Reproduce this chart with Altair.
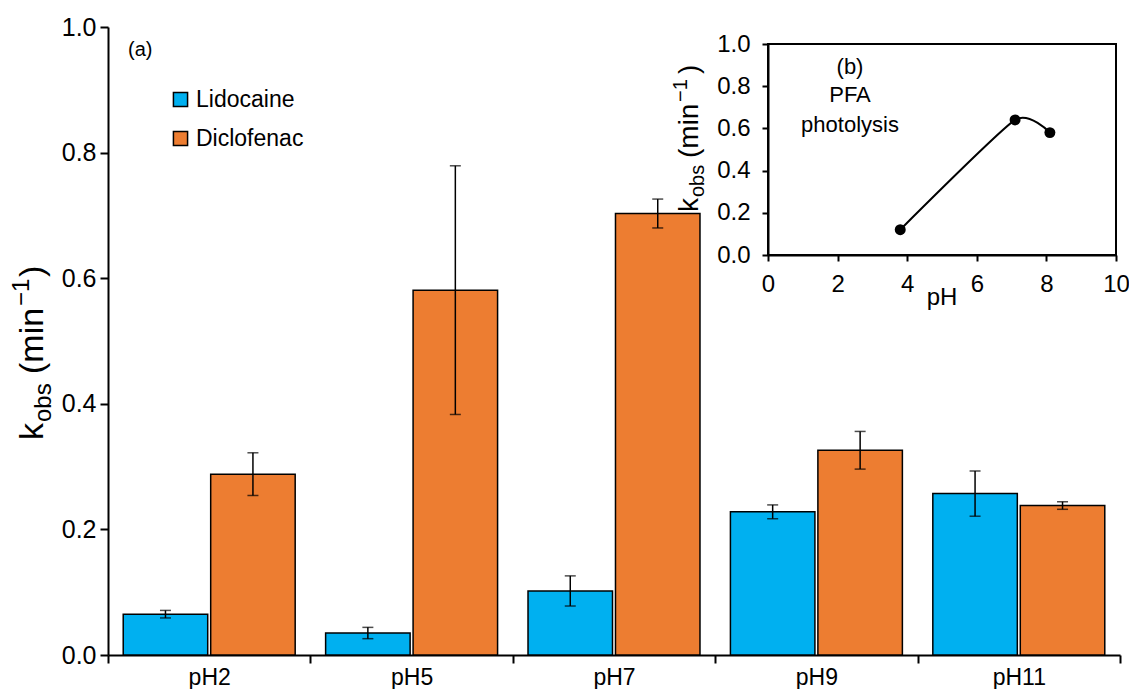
import altair as alt
import pandas as pd

FONT = "Liberation Sans"

# ---------------- data ----------------
categories = ["pH2", "pH5", "pH7", "pH9", "pH11"]
series = ["Lidocaine", "Diclofenac"]
colors = ["#00B0F0", "#ED7D31"]
lidocaine = [0.065, 0.035, 0.102, 0.228, 0.257]
lidocaine_err = [0.006, 0.009, 0.024, 0.011, 0.036]
diclofenac = [0.288, 0.581, 0.703, 0.326, 0.238]
diclofenac_err = [0.034, 0.198, 0.023, 0.030, 0.006]

inset_ph = [3.8, 7.1, 8.1]
inset_k = [0.12, 0.64, 0.58]

y_ticks = [0.0, 0.2, 0.4, 0.6, 0.8, 1.0]
inset_x_ticks = [0, 2, 4, 6, 8, 10]
inset_labels = ["(b)", "PFA", "photolysis"]

# ---------------- tables ----------------
rows = []
for s, vals, errs in [("Lidocaine", lidocaine, lidocaine_err), ("Diclofenac", diclofenac, diclofenac_err)]:
    for c, v, e in zip(categories, vals, errs):
        rows.append({"cat": c, "series": s, "value": v, "lo": v - e, "hi": v + e})
df = pd.DataFrame(rows)
inset_df = pd.DataFrame({"ph": inset_ph, "k": inset_k})
frame_df = pd.DataFrame({"x0": [inset_x_ticks[0]], "x1": [inset_x_ticks[-1]], "y0": [y_ticks[0]], "y1": [y_ticks[-1]]})
one = pd.DataFrame({"d": [0]})

W, H = 1012, 628

x_enc = alt.X("cat:N", sort=categories,
              scale=alt.Scale(paddingInner=0, paddingOuter=0),
              axis=alt.Axis(title=None, tickBand="extent", labelAngle=0, labelFontSize=23,
                            labelFont=FONT, labelColor="black", labelPadding=3, tickSize=8,
                            tickWidth=2, tickColor="black", domainWidth=2, domainColor="black"))
xo_enc = alt.XOffset("series:N", sort=series,
                     scale=alt.Scale(paddingInner=0.034, paddingOuter=0.174))
y_scale = alt.Scale(domain=[0, 1], nice=False)
y_axis = alt.Axis(title=None, values=y_ticks, format=".1f", labelFontSize=25, labelFont=FONT,
                  labelColor="black", labelPadding=4, tickSize=8, tickWidth=2, tickColor="black",
                  domainWidth=2, domainColor="black", grid=False)

base = alt.Chart(df)
bars = base.mark_bar(stroke="black", strokeWidth=1.5).encode(
    x=x_enc, xOffset=xo_enc,
    y=alt.Y("value:Q", scale=y_scale, axis=y_axis),
    color=alt.Color("series:N", sort=series, scale=alt.Scale(domain=series, range=colors),
                    legend=alt.Legend(title=None, orient="none", legendX=61, legendY=61,
                                      symbolType="square", symbolSize=200, symbolStrokeColor="black",
                                      symbolStrokeWidth=1.5, labelFontSize=23, labelFont=FONT,
                                      labelColor="black", rowPadding=15, labelOffset=4, padding=0)),
)
err = base.mark_rule(color="black", strokeWidth=1.5).encode(
    x=x_enc, xOffset=xo_enc, y=alt.Y("lo:Q", scale=y_scale), y2="hi:Q")
cap_lo = base.mark_tick(color="black", thickness=1.5, size=11, orient="horizontal").encode(
    x=x_enc, xOffset=xo_enc, y=alt.Y("lo:Q", scale=y_scale))
cap_hi = base.mark_tick(color="black", thickness=1.5, size=11, orient="horizontal").encode(
    x=x_enc, xOffset=xo_enc, y=alt.Y("hi:Q", scale=y_scale))

def txt(text, x, y, size, angle=0, align="left", baseline="alphabetic"):
    kw = dict(text=text, fontSize=size, font=FONT, color="black", align=align, baseline=baseline)
    if angle:
        kw["angle"] = angle
    return alt.Chart(one).mark_text(**kw).encode(x=alt.value(x), y=alt.value(y))

# main y-axis title: k_obs (min^-1)
bx = -65
main_title = [
    txt("k", bx, 413, 34, 270),
    txt("obs", bx + 8, 395, 24, 270),
    txt("(min", bx, 347, 34, 270),
    txt("\u22121", bx - 14, 279, 24, 270),
    txt(")", bx, 250, 34, 270),
]
panel_a = txt("(a)", 20, 23, 20, baseline="middle")

main = alt.layer(bars, err, cap_lo, cap_hi, panel_a, *main_title)

# ---------------- inset ----------------
ix_scale = alt.Scale(domain=[0, 10], range=[660, 1008], nice=False)
iy_scale = alt.Scale(domain=[0, 1], range=[228, 17], nice=False)
ix_axis = alt.Axis(orient="bottom", offset=-400, values=inset_x_ticks, format="d", title=None,
                   labelFontSize=24, labelFont=FONT, labelColor="black", labelPadding=11,
                   labelOverlap=False, labelFlush=False, labelBound=False,
                   tickSize=6, tickWidth=2, tickColor="black",
                   domainWidth=2, domainColor="black", grid=False)
iy_axis = alt.Axis(orient="left", offset=-660, values=y_ticks, format=".1f", title=None,
                   labelFontSize=24, labelFont=FONT, labelColor="black", labelPadding=12,
                   labelOverlap=False, labelFlush=False,
                   tickSize=6, tickWidth=2, tickColor="black", domainWidth=2, domainColor="black",
                   grid=False)

frame = alt.Chart(frame_df).mark_rect(fillOpacity=0, stroke="black", strokeWidth=2).encode(
    x=alt.X("x0:Q", scale=ix_scale, axis=ix_axis), x2="x1:Q",
    y=alt.Y("y0:Q", scale=iy_scale, axis=iy_axis), y2="y1:Q")
iline = alt.Chart(inset_df).mark_line(color="black", strokeWidth=2, interpolate="cardinal",
                                      tension=0.45).encode(
    x=alt.X("ph:Q", scale=ix_scale), y=alt.Y("k:Q", scale=iy_scale))
ipts = alt.Chart(inset_df).mark_circle(color="black", size=120, opacity=1).encode(
    x=alt.X("ph:Q", scale=ix_scale), y=alt.Y("k:Q", scale=iy_scale))

ibx = 590
inset_title = [
    txt("k", ibx, 185, 28, 270),
    txt("obs", ibx + 6, 170, 20, 270),
    txt("(min", ibx, 131, 28, 270),
    txt("\u22121", ibx - 11, 75, 20, 270),
    txt(")", ibx, 47, 28, 270),
]
ph_title = txt("pH", 834, 278, 24, align="center")
ann = [txt(t, 742, yy, 22, align="center", baseline="middle") for t, yy in zip(inset_labels, [40, 68, 98])]

inset = alt.layer(frame, iline, ipts, *inset_title, ph_title, *ann)

chart = alt.layer(main, inset).resolve_scale(x="independent", y="independent").properties(
    width=W, height=H,
    autosize=alt.AutoSizeParams(type="none"),
    padding={"left": 100, "top": 19, "right": 9, "bottom": 34},
).configure_view(stroke=None)

chart.save("out.html", embed_options={"renderer": "svg", "actions": False})
